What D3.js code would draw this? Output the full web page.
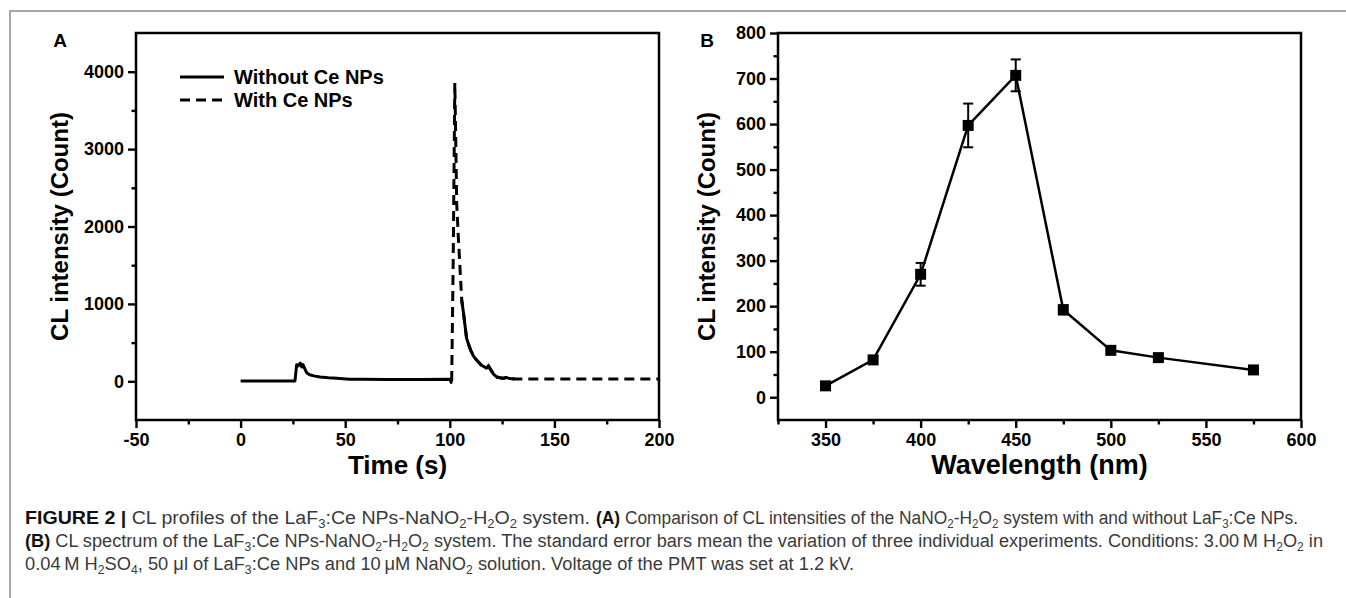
<!DOCTYPE html>
<html>
<head>
<meta charset="utf-8">
<script src="https://cdn.jsdelivr.net/npm/d3@7"></script>
<style>
  body { margin: 0; background: #fff; }
  svg { display: block; }
</style>
</head>
<body>
<svg id="fig" width="1346" height="598"></svg>
<script>
// ---- panel A : CL profiles (time in s, CL counts) ----
const withoutCe = [[0,5],[26,5],[26.8,215],[27.5,200],[28.5,235],[29.2,185],[29.8,215],[31.6,110],[33,85],[35,70],
  [38,55],[42,45],[46,38],[52,28],[58,25],[70,24],[85,24],[100.2,25],[100.6,-15],[100.9,5]];
const withCe = [[100.9,5],[101.6,1500],[102.4,3855],[102.8,3200],[103.3,2300],[104,1900],[104.8,1500],[105.7,1050],
  [106.5,890],[107,780],[108,560],[108.8,490],[110,400],[112,300],[113,270],[115,210],[117.6,170],[118.5,200],
  [119.5,150],[121,90],[122.5,55],[125,40],[127,50],[128.6,35],[131,30],[200,30]];
// decay tail of the "with" trace, which prints as a solid stroke
const withCeTail = [[105.7,1050],[106.5,890],[107,780],[108,560],[108.8,490],[110,400],[111,340],[112,300],[113,270],
  [114,240],[115,210],[116,195],[117.6,170],[118.5,200],[119.5,150],[121,90],[122.5,55],[124,45],[125,40],
  [126,38],[127,50],[128.6,35],[131,30]];
const timeTicks = [-50, 0, 50, 100, 150, 200];
const timeMinor = [-25, 25, 75, 125, 175];
const countTicksA = [0, 1000, 2000, 3000, 4000];
const countMinorA = [500, 1500, 2500, 3500];
const legendNames = ["Without Ce NPs", "With Ce NPs"];

// ---- panel B : CL spectrum ----
const wavelengths = [350, 375, 400, 425, 450, 475, 500, 525, 575];
const intensity = [25, 82, 270, 597, 707, 192, 103, 87, 60];
const errBars = [4, 5, 25, 48, 35, 10, 8, 5, 4];
const waveTicks = [350, 400, 450, 500, 550, 600];
const waveMinor = [325, 375, 425, 475, 525, 575];
const countTicksB = [0, 100, 200, 300, 400, 500, 600, 700, 800];
const countMinorB = [50, 150, 250, 350, 450, 550, 650, 750];

// caption runs: *bold*, _n subscript
const captionLines = [
  ["*FIGURE 2 |* CL profiles of the LaF_3:Ce NPs-NaNO_2-H_2O_2 system.",
   "*(A)* Comparison of CL intensities of the NaNO_2-H_2O_2 system with and without LaF_3:Ce NPs."],
  ["*(B)* CL spectrum of the LaF_3:Ce NPs-NaNO_2-H_2O_2 system. The standard error bars mean the variation of three individual experiments. Conditions: 3.00\u2009M H_2O_2 in"],
  ["0.04\u2009M H_2SO_4, 50 \u03bcl of LaF_3:Ce NPs and 10\u2009\u03bcM NaNO_2 solution. Voltage of the PMT was set at 1.2 kV."]
];

const svg = d3.select("#fig");
const FONT = "'Liberation Sans', Arial, Helvetica, sans-serif";

// outer frame of the figure
svg.append("rect")
  .attr("x", 10).attr("y", 11).attr("width", 1400).attr("height", 700)
  .attr("fill", "none").attr("stroke", "#8a8a8a").attr("stroke-width", 1.5);

function panel(cfg) {
  let g = svg.append("g");
  let x = d3.scaleLinear().domain(cfg.xDomain).range([cfg.left, cfg.right]);
  let y = d3.scaleLinear().domain(cfg.yDomain).range([cfg.bottom, cfg.top]);

  // minor ticks
  g.append("g").attr("transform", "translate(0," + cfg.bottom + ")")
    .call(d3.axisBottom(x).tickValues(cfg.xMinor).tickSize(4.5).tickFormat(""))
    .call(a => a.select(".domain").remove());
  g.append("g").attr("transform", "translate(" + cfg.left + ",0)")
    .call(d3.axisLeft(y).tickValues(cfg.yMinor).tickSize(4.5).tickFormat(""))
    .call(a => a.select(".domain").remove());

  // major ticks + labels
  let xa = g.append("g").attr("transform", "translate(0," + cfg.bottom + ")")
    .call(d3.axisBottom(x).tickValues(cfg.xTicks).tickSize(8).tickSizeOuter(0).tickPadding(5).tickFormat(d => String(d)));
  let ya = g.append("g").attr("transform", "translate(" + cfg.left + ",0)")
    .call(d3.axisLeft(y).tickValues(cfg.yTicks).tickSize(8).tickSizeOuter(0).tickPadding(4).tickFormat(d => String(d)));
  [xa, ya].forEach(a => {
    a.select(".domain").remove();
    a.selectAll("text").attr("font-family", FONT).attr("font-weight", "bold")
      .attr("font-size", "18px").attr("fill", "#000");
  });
  g.selectAll(".tick line").attr("stroke", "#000").attr("stroke-width", 2.4);

  // box
  g.append("rect")
    .attr("x", cfg.left).attr("y", cfg.top)
    .attr("width", cfg.right - cfg.left).attr("height", cfg.bottom - cfg.top)
    .attr("fill", "none").attr("stroke", "#000").attr("stroke-width", 2.5);

  // titles
  g.append("text")
    .attr("x", (cfg.left + cfg.right) / 2).attr("y", 474)
    .attr("text-anchor", "middle")
    .attr("font-family", FONT).attr("font-weight", "bold").attr("font-size", cfg.xTitleSize)
    .text(cfg.xTitle);
  g.append("text")
    .attr("transform", "translate(" + cfg.yTitleX + "," + ((cfg.top + cfg.bottom) / 2) + ") rotate(-90)")
    .attr("text-anchor", "middle").attr("dy", "0.35em")
    .attr("font-family", FONT).attr("font-weight", "bold").attr("font-size", "24px")
    .text("CL intensity (Count)");
  g.append("text")
    .attr("x", cfg.yTitleX).attr("y", 47)
    .attr("text-anchor", "middle")
    .attr("font-family", FONT).attr("font-weight", "bold").attr("font-size", "19px")
    .text(cfg.tag);

  return {g: g, x: x, y: y};
}

// ---------- A ----------
let pA = panel({
  left: 136, right: 659, top: 33, bottom: 420,
  xDomain: [-50, 200], yDomain: [-500, 4500],
  xTicks: timeTicks, xMinor: timeMinor, yTicks: countTicksA, yMinor: countMinorA,
  xTitle: "Time (s)", xTitleSize: "26px", yTitleX: 60, tag: "A"
});
let lineA = d3.line().x(d => pA.x(d[0])).y(d => pA.y(d[1]));

pA.g.append("path").datum(withCe)
  .attr("d", lineA).attr("fill", "none").attr("stroke", "#000")
  .attr("stroke-width", 3).attr("stroke-dasharray", "10,6");
pA.g.append("path").datum(withCeTail)
  .attr("d", lineA).attr("fill", "none").attr("stroke", "#000")
  .attr("stroke-width", 3).attr("stroke-linejoin", "round");
pA.g.append("path").datum(withoutCe)
  .attr("d", lineA).attr("fill", "none").attr("stroke", "#000")
  .attr("stroke-width", 3).attr("stroke-linejoin", "round");

// legend
let leg = pA.g.selectAll(".leg").data(legendNames).enter().append("g").attr("class", "leg")
  .attr("transform", (d, i) => "translate(180," + (77 + i * 23) + ")");
leg.append("line").attr("x1", 0).attr("x2", 44).attr("y1", 0).attr("y2", 0)
  .attr("stroke", "#000").attr("stroke-width", 3)
  .attr("stroke-dasharray", (d, i) => i == 1 ? "10,6" : null);
leg.append("text").attr("x", 54).attr("dy", "0.35em")
  .attr("font-family", FONT).attr("font-weight", "bold").attr("font-size", "20px")
  .text(d => d);

// ---------- B ----------
let pB = panel({
  left: 778, right: 1301, top: 33, bottom: 420,
  xDomain: [325, 600], yDomain: [-50, 800],
  xTicks: waveTicks, xMinor: waveMinor, yTicks: countTicksB, yMinor: countMinorB,
  xTitle: "Wavelength (nm)", xTitleSize: "27px", yTitleX: 707, tag: "B"
});
let spec = wavelengths.map((w, i) => ({w: w, v: intensity[i], e: errBars[i]}));

pB.g.append("path").datum(spec)
  .attr("d", d3.line().x(d => pB.x(d.w)).y(d => pB.y(d.v)))
  .attr("fill", "none").attr("stroke", "#000").attr("stroke-width", 2.5);

let eb = pB.g.selectAll(".eb").data(spec).enter().append("g").attr("class", "eb");
eb.append("line")
  .attr("x1", d => pB.x(d.w)).attr("x2", d => pB.x(d.w))
  .attr("y1", d => pB.y(d.v - d.e)).attr("y2", d => pB.y(d.v + d.e))
  .attr("stroke", "#000").attr("stroke-width", 2);
[-1, 1].forEach(s => {
  eb.append("line")
    .attr("x1", d => pB.x(d.w) - 5).attr("x2", d => pB.x(d.w) + 5)
    .attr("y1", d => pB.y(d.v + s * d.e)).attr("y2", d => pB.y(d.v + s * d.e))
    .attr("stroke", "#000").attr("stroke-width", 2);
});
pB.g.selectAll(".pt").data(spec).enter().append("rect").attr("class", "pt")
  .attr("x", d => pB.x(d.w) - 5.5).attr("y", d => pB.y(d.v) - 5.5)
  .attr("width", 11).attr("height", 11).attr("fill", "#000");

// ---------- caption ----------
// start and end x of each run
const capSpans = [[[25, 590], [596, 1298]], [[25, 1323]], [[25, 854]]];
captionLines.forEach((runs, i) => {
  runs.forEach((run, j) => {
    let span = capSpans[i][j];
    let t = svg.append("text")
      .attr("x", span[0]).attr("y", 524 + i * 23)
      .attr("font-family", FONT).attr("font-size", "18px").attr("fill", "#3a3a3a")
      .attr("textLength", span[1] - span[0]).attr("lengthAdjust", "spacingAndGlyphs");
    let parts = run.split(/(\*[^*]+\*|_\d)/).filter(s => s.length);
    let shifted = false;
    parts.forEach(p => {
      let ts = t.append("tspan");
      if (p[0] == "*") {
        ts.attr("font-weight", "bold").attr("fill", "#111").text(p.slice(1, -1));
        if (shifted) { ts.attr("dy", -4); shifted = false; }
      } else if (p[0] == "_") {
        ts.attr("font-size", "12px").attr("dy", shifted ? 0 : 4).text(p.slice(1));
        shifted = true;
      } else {
        ts.text(p);
        if (shifted) { ts.attr("dy", -4); shifted = false; }
      }
    });
  });
});
</script>
</body>
</html>
